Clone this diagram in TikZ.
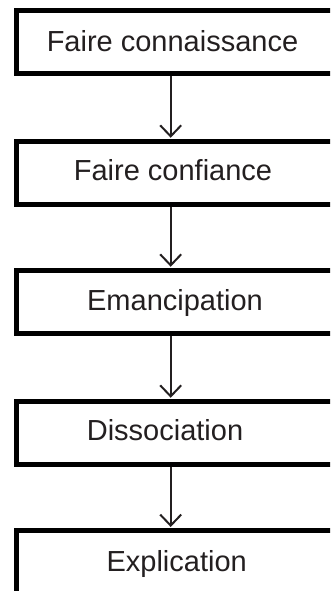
\documentclass[tikz,border=0pt]{standalone}
\usepackage{fontspec}
\setmainfont{Liberation Sans}
\usetikzlibrary{arrows.meta}
\definecolor{ink}{RGB}{35,31,32}
\tikzset{
	stagebox/.style={draw=black, line width=5pt, rectangle, minimum width=328.5pt, minimum height=63.5pt, inner sep=0pt},
	stagetext/.style={anchor=base, inner sep=0pt, text=ink, font=\fontsize{29}{34}\selectfont},
	flow/.style={draw=ink, line width=2pt, -{Straight Barb[length=11pt, width=21pt]}, shorten >=1pt}
}

\begin{document}
\begin{tikzpicture}[x=1pt, y=-1pt]
	\useasboundingbox (0, 0) rectangle (330, 591);
	\clip (0, 0) rectangle (330, 591);
	\coordinate (axis) at (170.7, 0);
	% boxes, cut off at the right and at the bottom
	\node[stagebox] (b1) at (180.75, 42.25) {};
	\node[stagebox] (b2) at (180.75, 173) {};
	\node[stagebox] (b3) at (180.75, 302) {};
	\node[stagebox] (b4) at (180.75, 433) {};
	\node[stagebox] (b5) at (180.75, 562.25) {};
	\node[stagetext] (t1) at (172.5, 52) {Faire connaissance};
	\node[stagetext] (t2) at (173, 180) {Faire confiance};
	\node[stagetext] (t3) at (175, 310) {Emancipation};
	\node[stagetext] (t4) at (165, 440) {Dissociation};
	\node[stagetext] (t5) at (176.7, 571.7) {Explication};
	\draw[flow] (b1.south -| axis) -- (b2.north -| axis);
	\draw[flow] (b2.south -| axis) -- (b3.north -| axis);
	\draw[flow] (b3.south -| axis) -- (b4.north -| axis);
	\draw[flow] (b4.south -| axis) -- (b5.north -| axis);
\end{tikzpicture}
\end{document}
